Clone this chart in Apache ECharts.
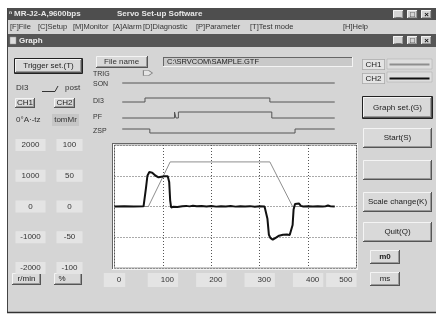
<!DOCTYPE html>
<html><head><meta charset="utf-8">
<script src="https://cdn.jsdelivr.net/npm/echarts@6/dist/echarts.min.js"></script>
<style>html,body{margin:0;padding:0;background:#fff}#c{width:436px;height:320px}</style>
</head><body><div id="c"></div>
<script>
// ---------------- data ----------------
const xTicks = [0, 100, 200, 300, 400, 500];            // ms
const speedTicks = [-2000, -1000, 0, 1000, 2000];       // r/min
const torqueTicks = [-100, -50, 0, 50, 100];            // %

// CH1 : speed (r/min)
const ch1Time  = [0, 70, 115, 321, 368, 455];
const ch1Speed = [0, 0, 1450, 1450, 0, 0];

// CH2 : torque (%)
const ch2Time = [
  0, 20, 40, 60, 62, 65, 68, 72,
  78, 85, 91, 97, 103, 110, 113, 115,
  117, 122, 130, 140, 148, 155, 162, 170,
  180, 190, 200, 210, 220, 230, 240, 250,
  260, 270, 280, 290, 300, 310, 314, 316,
  319, 322, 327, 333, 340, 348, 356, 362,
  366, 368, 370, 373, 377, 381, 385, 390,
  400, 410, 420, 430, 436, 441, 446, 455];
const ch2Torque = [
  0, 0.5, 0, 0.3, 2, 30, 50, 56,
  55, 50, 47.5, 48.5, 49, 49, 40, 10,
  -1.5, -0.5, -0.8, 0.5, 1, 0.2, 1.2, 0.3,
  1, 0, 0.8, -0.2, 0.6, 0, 0.7, -0.2,
  0.5, 0, 0.6, -0.3, 0.4, 0, 0, -20,
  -46, -51, -54, -51, -47.5, -46, -45.5, -46.5,
  -47, -30, -5, 4, 7, 5, 1, 0,
  0.5, 0, 0.5, 0, 0.5, 1.5, 0.3, 0];

// digital signals : change times (ms) and states
const sonTime = [16, 455],            sonState = [1, 1];
const di3Time = [16, 63, 321, 455],   di3State = [0, 1, 0, 0];
const pfTime  = [16, 124, 127, 132, 325, 455], pfState = [0, 1, 0, 1, 0, 0];
const zspTime = [16, 73, 373, 455],   zspState = [1, 0, 1, 1];
const trigTime = [69];

const signalNames = ['TRIG', 'SON', 'DI3', 'PF', 'ZSP'];

// ---------------- layout / style ----------------
const FONT = '"Liberation Sans", Arial, sans-serif';
const BG = '#d5d5d5';
const PLOT = {left: 114.5, top: 145, width: 242, height: 123};
const SIG = {top: 66, height: 70};               // signal strip (value axis in px units)
const sigRows = {SON: {base: 17, amp: 0}, DI3: {base: 36, amp: 4}, PF: {base: 52, amp: 6}, ZSP: {base: 67, amp: 4}, TRIG: {base: 7}};
const sigLabelY = {TRIG: 74, SON: 84, DI3: 101, PF: 117, ZSP: 131};

function zip(a, b) { return a.map((v, i) => [v, b[i]]); }
function sigData(t, s, row) { return t.map((v, i) => [v, row.base - s[i] * row.amp]); }

// ---------------- graphic helpers ----------------
function rect(x, y, w, h, fill, stroke, lw, z) {
  return {type: 'rect', shape: {x, y, width: w, height: h}, style: {fill: fill, stroke: stroke || null, lineWidth: lw || 1}, z: (z === undefined ? -5 : z), silent: true};
}
function ln(x1, y1, x2, y2, stroke, lw, z) {
  return {type: 'line', shape: {x1, y1, x2, y2}, style: {stroke: stroke, lineWidth: lw || 1}, z: (z === undefined ? -4 : z), silent: true};
}
function txt(x, y, s, o) {
  return {type: 'text', x: x, y: y, z: 5, silent: true,
    style: Object.assign({text: s, fill: '#222', font: '8px ' + FONT, textAlign: 'left', textVerticalAlign: 'middle'}, o || {})};
}
function raised(x, y, w, h, fill) {
  return [
    rect(x, y, w, h, fill || '#d9d9d9', null, 1, -3),
    ln(x + 0.5, y + 0.5, x + w - 0.5, y + 0.5, '#f4f4f4', 1, -2),
    ln(x + 0.5, y + 0.5, x + 0.5, y + h - 0.5, '#f4f4f4', 1, -2),
    ln(x, y + h - 0.5, x + w, y + h - 0.5, '#555', 1, -2),
    ln(x + w - 0.5, y, x + w - 0.5, y + h, '#555', 1, -2),
    ln(x + 1, y + h - 1.5, x + w - 1, y + h - 1.5, '#999', 1, -2),
    ln(x + w - 1.5, y + 1, x + w - 1.5, y + h - 1, '#999', 1, -2)
  ];
}
function sunken(x, y, w, h, fill) {
  return [
    rect(x, y, w, h, fill || '#e2e2e2', null, 1, -3),
    ln(x, y + 0.5, x + w, y + 0.5, '#666', 1, -2),
    ln(x + 0.5, y, x + 0.5, y + h, '#666', 1, -2),
    ln(x, y + h - 0.5, x + w, y + h - 0.5, '#f4f4f4', 1, -2),
    ln(x + w - 0.5, y, x + w - 0.5, y + h, '#f4f4f4', 1, -2)
  ];
}
function button(x, y, w, h, label, isDefault, bold) {
  const g = raised(x, y, w, h);
  if (isDefault) g.push(rect(x - 0.5, y - 0.5, w + 1, h + 1, null, '#222', 1, -1));
  if (label) g.push(txt(x + w / 2, y + h / 2, label, {textAlign: 'center', font: (bold ? 'bold ' : '') + '8px ' + FONT}));
  return g;
}
function winButtons(y) {
  const out = [];
  [[393, '_'], [407, '□'], [421, '×']].forEach(([x, s]) => {
    out.push(...raised(x, y, 11, 9, '#d4d4d4'));
    out.push(txt(x + 5.5, y + 4.5, s, {textAlign: 'center', font: 'bold 8px ' + FONT, fill: '#111'}));
  });
  return out;
}

const G = [];
// window background
G.push(rect(7, 8, 429, 305, BG, null, 1, -6));
G.push(ln(7.5, 8, 7.5, 313, '#444', 1));
G.push(ln(7, 312.5, 436, 312.5, '#333', 1.5));
// main title bar
G.push(rect(7, 8, 429, 12, '#4e4e4e'));
G.push(txt(9, 14, 'ⁿ', {fill: '#eee', font: 'bold 8px ' + FONT}));
G.push(txt(14, 14, 'MR-J2-A,9600bps', {fill: '#e8e8e8', font: 'bold 8px ' + FONT}));
G.push(txt(117, 14, 'Servo Set-up Software', {fill: '#e8e8e8', font: 'bold 8px ' + FONT}));
G.push(...winButtons(10));
// menu bar
[['[F]File', 10], ['[C]Setup', 38], ['[M]Monitor', 73], ['[A]Alarm', 113], ['[D]Diagnostic', 143],
 ['[P]Parameter', 196], ['[T]Test mode', 250], ['[H]Help', 343]].forEach(([s, x]) =>
  G.push(txt(x, 27, s, {font: '7.5px ' + FONT, fill: '#333'})));
// graph title bar
G.push(rect(7, 34, 429, 13, '#565656'));
G.push(rect(10, 37, 6, 7, '#ddd', '#999', 0.5, -4));
G.push(txt(19, 40.5, 'Graph', {fill: '#eee', font: 'bold 8px ' + FONT}));
G.push(...winButtons(36));

// ---- left panel ----
G.push(...button(15, 59, 67, 14, 'Trigger set.(T)', true, false));
G.push(txt(16, 88, 'DI3', {fill: '#333'}));
G.push({type: 'polyline', shape: {points: [[42, 91.5], [55, 91.5], [58, 86]]}, style: {stroke: '#333', lineWidth: 1, fill: null}, z: 2, silent: true});
G.push(txt(65, 88, 'post', {fill: '#333'}));
G.push(...raised(15, 98, 20, 10));
G.push(txt(25, 103, 'CH1', {textAlign: 'center'}));
G.push(...raised(54, 98, 21, 10));
G.push(txt(64.5, 103, 'CH2', {textAlign: 'center'}));
G.push(txt(16, 120, '0°A·-tz', {fill: '#333'}));
G.push(rect(52, 114, 27, 12, '#c6c6c6', null, 1, -3));
G.push(txt(65.5, 120, 'tomMr', {textAlign: 'center', fill: '#333'}));
G.push(...raised(12, 273, 29, 12));
G.push(txt(26.5, 279, 'r/min', {textAlign: 'center'}));
G.push(...raised(54, 273, 28, 12));
G.push(txt(62, 279, '%', {textAlign: 'center'}));

// ---- signal strip ----
G.push(...raised(96, 56, 52, 12));
G.push(txt(104, 62, 'File name', {fill: '#333'}));
G.push(...sunken(163, 57, 190, 10, '#c9c9c9'));
G.push(txt(167, 62, 'C:\\SRVCOM\\SAMPLE.GTF', {fill: '#222', font: '7.5px ' + FONT}));
signalNames.forEach(n => G.push(txt(93, sigLabelY[n], n, {fill: '#333', font: '7px ' + FONT})));

// plot frame shadow
G.push(...sunken(112, 143, 246, 127, '#fff'));

// legend line-sample wells
G.push(rect(387, 59, 45, 10, '#dedede', '#aaa', 0.5, -3));
G.push(rect(387, 72, 45, 10, '#dedede', '#aaa', 0.5, -3));

// ---- right panel ----
G.push(...button(363, 97, 69, 21, 'Graph set.(G)', true));
G.push(...button(363, 128, 69, 20, 'Start(S)'));
G.push(...button(363, 160, 69, 20, ''));
G.push(...button(363, 192, 69, 20, 'Scale change(K)'));
G.push(...button(363, 222, 69, 20, 'Quit(Q)'));
G.push(...raised(370, 250, 30, 14));
G.push(txt(385, 257, 'm0', {textAlign: 'center', font: 'bold 8px ' + FONT}));
G.push(...raised(370, 272, 30, 14));
G.push(txt(385, 279, 'ms', {textAlign: 'center'}));

const dotted = {type: [1, 2], color: '#555', width: 1};
const labelBox = {fontSize: 8, fontFamily: FONT, color: '#333', backgroundColor: '#e4e4e4', align: 'center', formatter: v => String(v)};

const option = {
  animation: false,
  backgroundColor: '#fff',
  textStyle: {fontFamily: FONT},
  graphic: {elements: G},
  legend: {
    data: ['CH1', 'CH2'], orient: 'vertical', left: 362, top: 59, align: 'right',
    itemWidth: 40, itemHeight: 10, itemGap: 3, selectedMode: false, padding: 0,
    itemStyle: {opacity: 0},
    textStyle: {fontSize: 8, color: '#222', backgroundColor: '#e4e4e4', borderColor: '#888', borderWidth: 0.5, padding: [1, 3]}
  },
  grid: [
    Object.assign({show: true, backgroundColor: '#fff', borderColor: '#999', borderWidth: 1}, PLOT),
    {left: PLOT.left, width: PLOT.width, top: SIG.top, height: SIG.height, show: false}
  ],
  xAxis: [
    {gridIndex: 0, type: 'value', min: xTicks[0], max: xTicks[xTicks.length - 1], interval: 100,
      axisLine: {show: false}, axisTick: {show: false},
      splitLine: {show: true, lineStyle: dotted},
      axisLabel: Object.assign({}, labelBox, {margin: 5, padding: [3, 4, 3, 13], alignMaxLabel: 'right',
        showMinLabel: true, showMaxLabel: true, hideOverlap: false})},
    {gridIndex: 1, type: 'value', min: xTicks[0], max: xTicks[xTicks.length - 1], show: false}
  ],
  yAxis: [
    {gridIndex: 0, type: 'value', position: 'left', min: speedTicks[0], max: speedTicks[speedTicks.length - 1], interval: 1000,
      axisLine: {show: false}, axisTick: {show: false},
      splitLine: {show: true, lineStyle: dotted},
      axisLabel: Object.assign({}, labelBox, {margin: 84, padding: [4, 4, 0, 4], width: 22})},
    {gridIndex: 0, type: 'value', position: 'left', min: torqueTicks[0], max: torqueTicks[torqueTicks.length - 1], interval: 50,
      axisLine: {show: false}, axisTick: {show: false}, splitLine: {show: false},
      axisLabel: Object.assign({}, labelBox, {margin: 45, padding: [4, 4, 0, 4], width: 18})},
    {gridIndex: 1, type: 'value', min: 0, max: SIG.height, inverse: true, show: false}
  ],
  series: [
    {name: 'CH1', type: 'line', xAxisIndex: 0, yAxisIndex: 0, data: zip(ch1Time, ch1Speed), symbol: 'none',
      lineStyle: {color: '#8e8e8e', width: 1}, itemStyle: {color: '#8e8e8e'}, z: 2},
    {name: 'CH2', type: 'line', xAxisIndex: 0, yAxisIndex: 1, data: zip(ch2Time, ch2Torque), symbol: 'none',
      lineStyle: {color: '#111', width: 2}, itemStyle: {color: '#111'}, z: 3},
    {name: 'SON', type: 'line', xAxisIndex: 1, yAxisIndex: 2, step: 'end', data: sigData(sonTime, sonState, sigRows.SON), symbol: 'none', lineStyle: {color: '#555', width: 1}, silent: true},
    {name: 'DI3', type: 'line', xAxisIndex: 1, yAxisIndex: 2, step: 'end', data: sigData(di3Time, di3State, sigRows.DI3), symbol: 'none', lineStyle: {color: '#555', width: 1}, silent: true},
    {name: 'PF', type: 'line', xAxisIndex: 1, yAxisIndex: 2, step: 'end', data: sigData(pfTime, pfState, sigRows.PF), symbol: 'none', lineStyle: {color: '#555', width: 1}, silent: true},
    {name: 'ZSP', type: 'line', xAxisIndex: 1, yAxisIndex: 2, step: 'end', data: sigData(zspTime, zspState, sigRows.ZSP), symbol: 'none', lineStyle: {color: '#555', width: 1}, silent: true},
    {name: 'TRIG', type: 'scatter', xAxisIndex: 1, yAxisIndex: 2, data: trigTime.map(t => [t, sigRows.TRIG.base]),
      symbol: 'path://M0,0 L6,0 L10,3 L6,6 L0,6 Z', symbolSize: [9, 5],
      itemStyle: {color: '#e8e8e8', borderColor: '#666', borderWidth: 0.8}, silent: true}
  ]
};
const chart = echarts.init(document.getElementById('c'), null, {renderer: 'canvas'});
chart.setOption(option);
</script></body></html>
